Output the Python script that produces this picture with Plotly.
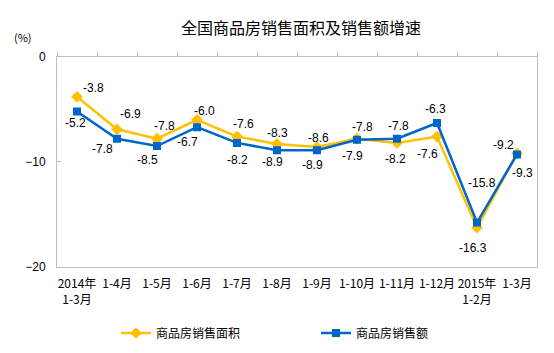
import plotly.graph_objects as go

categories = ["2014年<br>1-3月", "1-4月", "1-5月", "1-6月", "1-7月", "1-8月", "1-9月",
              "1-10月", "1-11月", "1-12月", "2015年<br>1-2月", "1-3月"]
area_growth = [-3.8, -6.9, -7.8, -6.0, -7.6, -8.3, -8.6, -7.8, -8.2, -7.6, -16.3, -9.2]
amount_growth = [-5.2, -7.8, -8.5, -6.7, -8.2, -8.9, -8.9, -7.9, -7.8, -6.3, -15.8, -9.3]
area_name = "商品房销售面积"
amount_name = "商品房销售额"
title_text = "全国商品房销售面积及销售额增速"

# label offsets (pixels, dx, dy downward) – styling only
area_label_dx = [16, 13, 7, 7, 6, 0, 1, 5, -2, -10, -4, -14]
area_label_dy = [-9, -15, -13, -9, -13, -11, -9, -12, 16, 17, 20, -8]
amount_label_dx = [-2, -15, -10, -10, 0, -5, -5, -5, 1, -2, 5, 5]
amount_label_dy = [12, 10, 14, 15, 17, 12, 15, 16, -13, -14, -40, 19]

YELLOW = "#FFC000"
BLUE = "#0066CC"
GRAY = "#BFBFBF"
CJK = "Noto Sans CJK SC"
LAT = "Liberation Sans, Arial"

PLOT_L, PLOT_R, PLOT_T, PLOT_B = 57, 537, 57, 268
PW, PH = PLOT_R - PLOT_L, PLOT_B - PLOT_T

x_idx = list(range(len(categories)))

fig = go.Figure()
fig.add_trace(go.Scatter(
    x=x_idx, y=area_growth, name=area_name, mode="lines+markers",
    line=dict(color=YELLOW, width=2.5),
    marker=dict(symbol="diamond", size=9, color=YELLOW),
))
fig.add_trace(go.Scatter(
    x=x_idx, y=amount_growth, name=amount_name, mode="lines+markers",
    line=dict(color=BLUE, width=2.5),
    marker=dict(symbol="square", size=8, color=BLUE),
))

annotations = []
for i, v in enumerate(area_growth):
    annotations.append(dict(x=i, y=v, xref="x", yref="y", text=f"{v:.1f}", showarrow=False,
                            xshift=area_label_dx[i], yshift=-area_label_dy[i],
                            font=dict(family=LAT, size=12, color="#000000")))
for i, v in enumerate(amount_growth):
    annotations.append(dict(x=i, y=v, xref="x", yref="y", text=f"{v:.1f}", showarrow=False,
                            xshift=amount_label_dx[i], yshift=-amount_label_dy[i],
                            font=dict(family=LAT, size=12, color="#000000")))
annotations.append(dict(x=(12 - PLOT_L) / PW, y=1 + (PLOT_T - 37) / PH, xref="paper", yref="paper",
                        text="(%)", showarrow=False, xanchor="left", yanchor="middle",
                        font=dict(family=CJK, size=11, color="#000000")))

fig.update_layout(
    width=554, height=353,
    margin=dict(l=PLOT_L, r=554 - PLOT_R, t=PLOT_T, b=353 - PLOT_B),
    paper_bgcolor="white", plot_bgcolor="white",
    title=dict(text=title_text, x=301 / 554, xref="container", xanchor="center",
               y=1 - 28 / 353, yref="container", yanchor="middle",
               font=dict(family=CJK, size=16, color="#000000")),
    showlegend=True,
    legend=dict(orientation="h", x=(116 - PLOT_L) / PW, xanchor="left",
                y=1 - 333 / 353, yref="container", yanchor="middle",
                entrywidth=155, entrywidthmode="pixels",
                font=dict(family=CJK, size=12, color="#000000")),
    annotations=annotations,
    xaxis=dict(range=[-0.5, len(categories) - 0.5], tickvals=x_idx, ticktext=categories,
               showgrid=False, zeroline=False, showline=True, linecolor=GRAY, linewidth=1,
               ticks="", ticklabelstandoff=6,
               tickfont=dict(family=CJK, size=12, color="#000000")),
    xaxis2=dict(range=[-0.5, len(categories) - 0.5], overlaying="x", side="top", anchor="y",
                tickvals=[i - 0.5 for i in range(len(categories) + 1)],
                showticklabels=False, ticks="outside", ticklen=4, tickcolor=GRAY,
                showline=True, linecolor=GRAY, linewidth=1, showgrid=False, zeroline=False),
    yaxis=dict(range=[-20, 0], tickvals=[0, -10, -20], showgrid=False, zeroline=False,
               showline=True, mirror=True, linecolor=GRAY, linewidth=1,
               ticks="inside", ticklen=4, tickcolor=GRAY, ticklabelstandoff=8,
               tickfont=dict(family=LAT, size=12, color="#000000")),
)
# invisible trace so the top (boundary tick) axis renders
fig.add_trace(go.Scatter(x=[0], y=[0], xaxis="x2", yaxis="y", mode="markers",
                         marker=dict(opacity=0), showlegend=False, hoverinfo="skip"))

fig.write_html("out.html")
